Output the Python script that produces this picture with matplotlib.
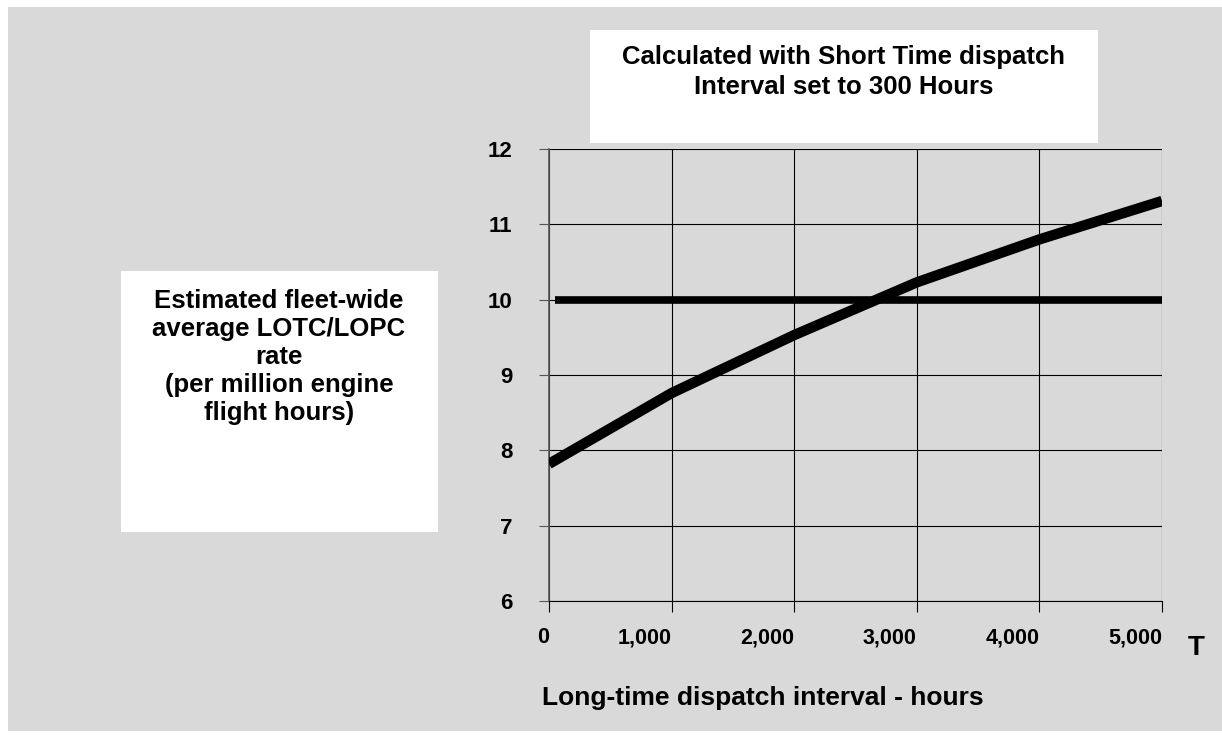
import numpy as np
import matplotlib
matplotlib.use("Agg")
import matplotlib.pyplot as plt
from matplotlib.patches import Rectangle

# Data
interval_hours = [0, 1000, 2000, 3000, 4000, 5000]
lotc_rate = [7.82, 8.76, 9.53, 10.23, 10.80, 11.31]
target_x = [50, 5000]
target_rate = [10, 10]
x_ticks = [0, 1000, 2000, 3000, 4000, 5000]
x_tick_labels = ["0", "1,000", "2,000", "3,000", "4,000", "5,000"]
y_ticks = [6, 7, 8, 9, 10, 11, 12]

W, H = 1222, 738
GREY = "#d9d9d9"

plt.rcParams['font.family'] = ['Liberation Sans', 'DejaVu Sans']
plt.rcParams['font.weight'] = 'bold'


def fx(x):
    return x / W


def fy(y):
    return 1 - y / H


def box(x0, y0, x1, y1, color):
    # rectangle given in pixel coords (top-left origin), drawn behind the axes
    return Rectangle((fx(x0), fy(y1)), fx(x1) - fx(x0), fy(y0) - fy(y1),
                     transform=fig.transFigure, facecolor=color,
                     edgecolor="none", zorder=-2)


fig = plt.figure(figsize=(W / 100, H / 100), dpi=100, facecolor="white")

fig.patches.append(box(8, 7, W, 731, GREY))
fig.patches.append(box(590, 30, 1098, 143, "white"))
fig.patches.append(box(121, 271, 438, 532, "white"))

ax = fig.add_axes([fx(549), fy(601), fx(1162) - fx(549), fy(149) - fy(601)])
ax.set_facecolor(GREY)

ax.plot(interval_hours, lotc_rate, color="black", lw=7.5, solid_capstyle="butt", zorder=3)
ax.plot(target_x, target_rate, color="black", lw=5.5, solid_capstyle="butt", zorder=3)

ax.set_xlim(0, 5000)
ax.set_ylim(6, 12)
ax.set_xticks(x_ticks)
ax.set_xticklabels(x_tick_labels, fontsize=15.5, fontweight="bold", ha="right")
ax.set_yticks(y_ticks)
ax.set_yticklabels([str(v) for v in y_ticks], fontsize=16, fontweight="bold")
ax.tick_params(axis="y", length=7.5, width=0.8, pad=19, color="#555555")
ax.tick_params(axis="x", length=8, width=0.8, pad=11, color="black")

ax.grid(True, color="black", lw=0.8)
ax.set_axisbelow(True)
for side in ["top", "right"]:
    ax.spines[side].set_visible(False)
ax.spines["left"].set_color("#555555")
ax.spines["left"].set_linewidth(1.2)
ax.spines["bottom"].set_linewidth(0.8)

fig.text(fx(844), fy(72), "Calculated with Short Time dispatch\nInterval set to 300 Hours",
         ha="center", va="center", fontsize=18.5, fontweight="bold", linespacing=1.32)

fig.text(fx(279), fy(357), "Estimated fleet-wide\naverage LOTC/LOPC\nrate\n(per million engine\nflight hours)",
         ha="center", va="center", fontsize=18.5, fontweight="bold", linespacing=1.22)

fig.text(fx(542), fy(698), "Long-time dispatch interval - hours",
         ha="left", va="center", fontsize=19, fontweight="bold")
fig.text(fx(1196), fy(648), "T", ha="center", va="center", fontsize=20, fontweight="bold")

fig.savefig("out.png", dpi=100, facecolor="white")
